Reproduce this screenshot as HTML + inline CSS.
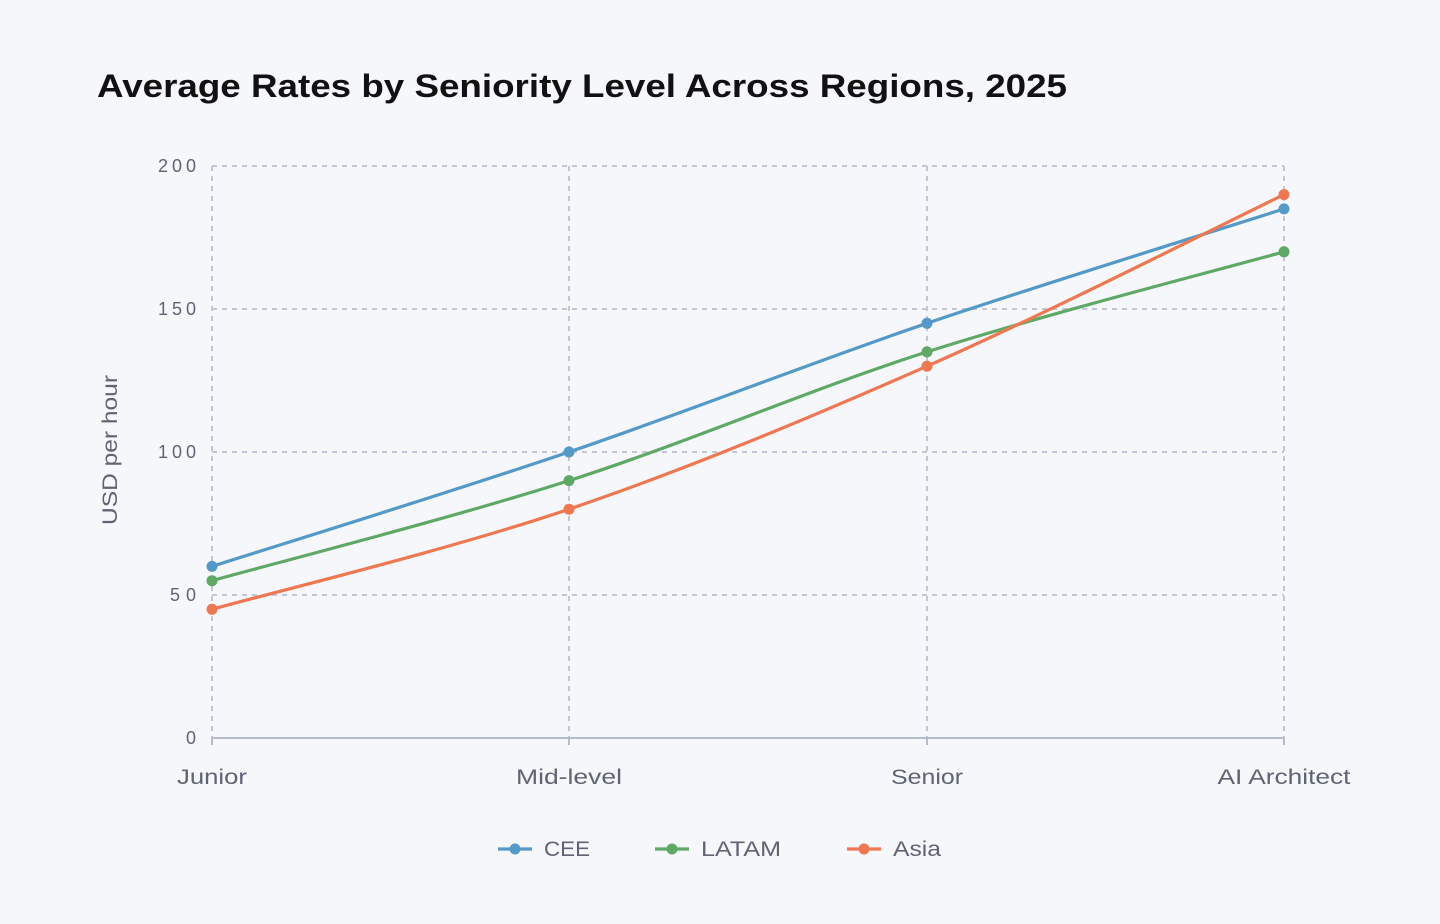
<!DOCTYPE html>
<html><head><meta charset="utf-8"><style>
html,body{margin:0;padding:0;background:#f5f7fb;}
svg{display:block;font-family:"Liberation Sans",sans-serif;}
</style></head><body>
<svg width="1440" height="924" viewBox="0 0 1440 924">
<rect width="1440" height="924" fill="#f5f7fb"/>
<text x="97" y="97" font-size="32" font-weight="bold" fill="#111" textLength="970" lengthAdjust="spacingAndGlyphs">Average Rates by Seniority Level Across Regions, 2025</text>
<g stroke="#c3c6d4" stroke-width="2" stroke-dasharray="5,5" fill="none">
<line x1="212" y1="166" x2="1284" y2="166"/>
<line x1="212" y1="309" x2="1284" y2="309"/>
<line x1="212" y1="452" x2="1284" y2="452"/>
<line x1="212" y1="595" x2="1284" y2="595"/>
<line x1="212" y1="166" x2="212" y2="738"/>
<line x1="569" y1="166" x2="569" y2="738"/>
<line x1="927" y1="166" x2="927" y2="738"/>
<line x1="1284" y1="166" x2="1284" y2="738"/>
</g>
<line x1="212" y1="738" x2="1284" y2="738" stroke="#b4bccb" stroke-width="2"/>
<g stroke="#b4bccb" stroke-width="2">
<line x1="212" y1="738" x2="212" y2="745"/><line x1="569" y1="738" x2="569" y2="745"/>
<line x1="927" y1="738" x2="927" y2="745"/><line x1="1284" y1="738" x2="1284" y2="745"/>
</g>
<g font-size="18" fill="#5f6475" text-anchor="end" lengthAdjust="spacingAndGlyphs">
<text x="196" y="172" textLength="38">200</text><text x="196" y="315" textLength="38">150</text><text x="196" y="458" textLength="38">100</text>
<text x="196" y="601" textLength="26">50</text><text x="196" y="744">0</text>
</g>
<g font-size="21" fill="#5f6475" text-anchor="middle">
<text x="212" y="784" textLength="70" lengthAdjust="spacingAndGlyphs">Junior</text>
<text x="569" y="784" textLength="106" lengthAdjust="spacingAndGlyphs">Mid-level</text>
<text x="927" y="784" textLength="72" lengthAdjust="spacingAndGlyphs">Senior</text>
<text x="1284" y="784" textLength="133" lengthAdjust="spacingAndGlyphs">AI Architect</text>
</g>
<text transform="translate(117,450) rotate(-90)" font-size="21" fill="#5f6475" text-anchor="middle" textLength="150" lengthAdjust="spacingAndGlyphs">USD per hour</text>
<g fill="none" stroke-width="3.2">
<path stroke="#5499c7" d="M212,566.4 C271.5,547.3 449.8,492.5 569,452 C688.2,411.5 807.8,363.8 927,323.3 C1046.2,282.8 1224.5,228 1284,208.9"/>
<path stroke="#5fa866" d="M212,580.7 C271.5,564 449.8,518.7 569,480.6 C688.2,442.5 807.8,390 927,351.9 C1046.2,313.8 1224.5,268.5 1284,251.8"/>
<path stroke="#ef7752" d="M212,609.3 C271.5,592.6 449.8,549.7 569,509.2 C688.2,468.7 807.8,418.6 927,366.2 C1046.2,313.8 1224.5,223.2 1284,194.6"/>
</g>
<g fill="#5499c7"><circle cx="212" cy="566.4" r="5.5"/><circle cx="569" cy="452" r="5.5"/><circle cx="927" cy="323.3" r="5.5"/><circle cx="1284" cy="208.9" r="5.5"/></g>
<g fill="#5fa866"><circle cx="212" cy="580.7" r="5.5"/><circle cx="569" cy="480.6" r="5.5"/><circle cx="927" cy="351.9" r="5.5"/><circle cx="1284" cy="251.8" r="5.5"/></g>
<g fill="#ef7752"><circle cx="212" cy="609.3" r="5.5"/><circle cx="569" cy="509.2" r="5.5"/><circle cx="927" cy="366.2" r="5.5"/><circle cx="1284" cy="194.6" r="5.5"/></g>
<g font-size="21" fill="#5f6475">
<line x1="498" y1="849" x2="532" y2="849" stroke="#5499c7" stroke-width="3.2"/><circle cx="515" cy="849" r="5.5" fill="#5499c7"/>
<text x="544" y="856" textLength="46" lengthAdjust="spacingAndGlyphs">CEE</text>
<line x1="655" y1="849" x2="689" y2="849" stroke="#5fa866" stroke-width="3.2"/><circle cx="672" cy="849" r="5.5" fill="#5fa866"/>
<text x="701" y="856" textLength="80" lengthAdjust="spacingAndGlyphs">LATAM</text>
<line x1="847" y1="849" x2="881" y2="849" stroke="#ef7752" stroke-width="3.2"/><circle cx="864" cy="849" r="5.5" fill="#ef7752"/>
<text x="893" y="856" textLength="48" lengthAdjust="spacingAndGlyphs">Asia</text>
</g>
</svg>
</body></html>
